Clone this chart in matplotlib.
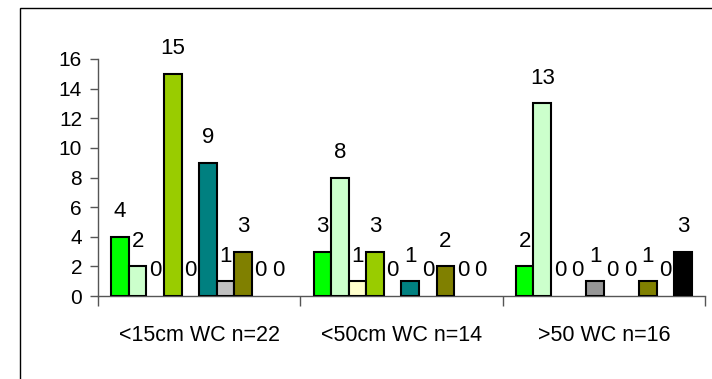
"""
Grouped bar chart - counts by WC class
"""
import matplotlib.pyplot as plt
import matplotlib.patches as mpatches
import numpy as np

plt.rcParams['font.family'] = ['Liberation Sans', 'DejaVu Sans']

# Data
groups = ['<15cm WC n=22', '<50cm WC n=14', '>50 WC n=16']
series_values = [
    [4, 3, 2],
    [2, 8, 13],
    [0, 1, 0],
    [15, 3, 0],
    [0, 0, 1],
    [9, 1, 0],
    [1, 0, 0],
    [3, 2, 1],
    [0, 0, 0],
    [0, 0, 3],
]
series_colors = ['#00FF00', '#CCFFCC', '#FFFFCC', '#99CC00', '#969696',
                 '#008080', '#C0C0C0', '#808000', '#FFFFFF', '#000000']
y_ticks = [0, 2, 4, 6, 8, 10, 12, 14, 16]

W, H = 712, 379
fig = plt.figure(figsize=(W / 100, H / 100), dpi=100)
fig.patch.set_facecolor('white')

# outer chart border
fig.patches.append(mpatches.Rectangle((20 / W, -0.1), 1.2, 1 - 8 / H + 0.1,
                                      transform=fig.transFigure, fill=False,
                                      edgecolor='black', linewidth=1.0))

ax = fig.add_axes([98 / W, 1 - 296 / H, 607 / W, 237 / H])

n_series = len(series_values)
bar_w = 1 / (n_series + 1.5)
x = np.arange(len(groups))

for j, (vals, col) in enumerate(zip(series_values, series_colors)):
    pos = x + (j - (n_series - 1) / 2) * bar_w
    lws = [1.5 if v > 0 else 0 for v in vals]
    ax.bar(pos, vals, width=bar_w, color=col, edgecolor='black', linewidth=lws,
           zorder=3)
    for px, v in zip(pos, vals):
        ax.annotate(str(v), (px, v), xytext=(0, 18), textcoords='offset points',
                    ha='center', va='center', fontsize=16, color='black')

ax.set_xlim(-0.5, len(groups) - 0.5)
ax.set_ylim(0, 16)
ax.set_yticks(y_ticks)
ax.tick_params(axis='y', labelsize=15, length=5.5, width=1, color='#555555', pad=6)

ax.set_xticks(x)
ax.set_xticklabels(groups, fontsize=15.5)
ax.tick_params(axis='x', length=0, pad=21)
ax.set_xticks(np.arange(len(groups) + 1) - 0.5, minor=True)
ax.tick_params(axis='x', which='minor', length=7, width=1, color='#555555')

for s in ['top', 'right']:
    ax.spines[s].set_visible(False)
for s in ['left', 'bottom']:
    ax.spines[s].set_color('#555555')
    ax.spines[s].set_linewidth(1.0)

plt.savefig('out.png', dpi=100, facecolor='white')
plt.close()
